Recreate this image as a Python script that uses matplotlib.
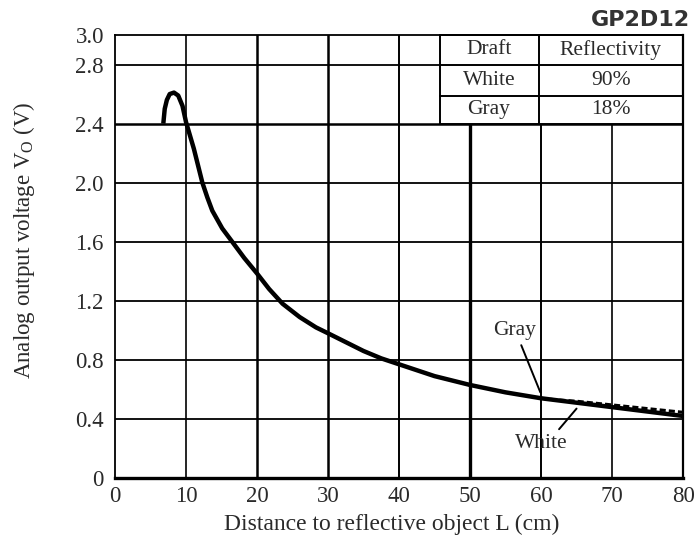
import matplotlib
matplotlib.use('Agg')
import matplotlib.pyplot as plt
from matplotlib.patches import Rectangle

plt.rcParams['font.family'] = ['Liberation Serif', 'DejaVu Serif']
plt.rcParams['mathtext.fontset'] = 'custom'
plt.rcParams['mathtext.rm'] = 'Liberation Serif'

# Curva (hoja de datos GP2D12)
dist_white = [6.8, 7.0, 7.3, 7.7, 8.3, 8.9, 9.5, 10.0, 11.1, 12.3, 13, 13.7, 15.1, 16.5, 18.2, 20,
              21.7, 23.6, 26, 28.3, 30, 32.5, 35, 37.5, 40, 42.5, 45, 47.5, 50, 55, 60, 65, 70, 75, 80]
volt_white = [2.40, 2.50, 2.56, 2.60, 2.61, 2.59, 2.52, 2.41, 2.23, 2.00, 1.90, 1.81, 1.69, 1.60, 1.49, 1.385,
              1.28, 1.18, 1.09, 1.02, 0.98, 0.92, 0.86, 0.81, 0.77, 0.73, 0.69, 0.66, 0.63, 0.58, 0.54, 0.51, 0.48, 0.45, 0.42]

dist_gray = [60, 62, 65, 70, 75, 80]
volt_gray = [0.54, 0.53, 0.52, 0.495, 0.47, 0.445]

xticks = [0, 10, 20, 30, 40, 50, 60, 70, 80]
yticks = [0, 0.4, 0.8, 1.2, 1.6, 2.0, 2.4, 2.8, 3.0]
ytick_labels = ['0', '0.4', '0.8', '1.2', '1.6', '2.0', '2.4', '2.8', '3.0']

tabla = [['Draft', 'Reflectivity'],
         ['White', '90%'],
         ['Gray', '18%']]

color_texto = '#2a2a2a'

fig = plt.figure(figsize=(6.98, 5.40), dpi=100)
ax = fig.add_axes([0.1648, 0.1148, 0.8138, 0.8204])
ax.set_xlim(0, 80)
ax.set_ylim(0, 3.0)

# Rejilla (algunas lineas se ven mas gruesas en el original)
grosor_v = {10: 1.2, 20: 1.8, 30: 1.8, 40: 1.4, 50: 2.4, 60: 1.4, 70: 1.2}
for xv, lw in grosor_v.items():
    ax.axvline(xv, color='black', lw=lw, zorder=1)
grosor_h = {0.4: 1.3, 0.8: 1.3, 1.2: 1.3, 1.6: 1.3, 2.0: 1.3, 2.4: 1.8, 2.8: 1.3}
for yv, lw in grosor_h.items():
    ax.axhline(yv, color='black', lw=lw, zorder=1)

ax.spines['bottom'].set_linewidth(2.4)
ax.spines['left'].set_linewidth(1.3)
ax.spines['right'].set_linewidth(1.6)
ax.spines['top'].set_linewidth(1.3)

ax.set_xticks(xticks)
ax.set_yticks(yticks)
ax.set_yticklabels(ytick_labels)
ax.tick_params(length=0, labelsize=16.5, labelcolor=color_texto)
ax.tick_params(axis='x', pad=6)
ax.tick_params(axis='y', pad=8)

# Tabla de reflectividad
x_izq, x_med, x_der = 45.7, 59.65, 80
filas_y = [3.0, 2.8, 2.59, 2.4]
ax.add_patch(Rectangle((x_izq, 2.4), x_der - x_izq, 0.6, facecolor='white',
                       edgecolor='none', zorder=2))
for yv in filas_y:
    ax.plot([x_izq, x_der], [yv, yv], color='black', lw=1.4, zorder=3, clip_on=False)
for xv in [x_izq, x_med]:
    ax.plot([xv, xv], [2.4, 3.0], color='black', lw=1.4, zorder=3)
for i, fila in enumerate(tabla):
    yc = (filas_y[i] + filas_y[i + 1]) / 2
    ax.text((x_izq + x_med) / 2, yc, fila[0], ha='center', va='center',
            fontsize=15.5, color=color_texto, zorder=4)
    ax.text((x_med + x_der) / 2, yc, fila[1], ha='center', va='center',
            fontsize=15.5, color=color_texto, zorder=4)

# Curvas
ax.plot(dist_white, volt_white, color='black', lw=3.2, solid_capstyle='butt',
        solid_joinstyle='round', zorder=5)
ax.plot(dist_gray, volt_gray, color='black', lw=2.2, dashes=(2, 1), zorder=6)

ax.annotate('Gray', xy=(59.9, 0.58), xytext=(56.3, 1.0), ha='center', va='center',
            fontsize=15.5, color=color_texto,
            arrowprops=dict(arrowstyle='-', lw=1.4, color='black', relpos=(0.6, 0),
                            shrinkA=2, shrinkB=0))
ax.annotate('White', xy=(65.0, 0.47), xytext=(60.1, 0.233), ha='center', va='center',
            fontsize=15.5, color=color_texto,
            arrowprops=dict(arrowstyle='-', lw=1.4, color='black', relpos=(0.75, 1),
                            shrinkA=2, shrinkB=0))

ax.set_xlabel('Distance to reflective object L (cm)', fontsize=17, color=color_texto)
ax.xaxis.set_label_coords(0.487, -0.08)
ax.set_ylabel(r'Analog output voltage $\mathregular{V_O}$ (V)', fontsize=16.5, color=color_texto)
ax.yaxis.set_label_coords(-0.137, 0.537)

fig.text(690 / 698, 1 - 20 / 540, 'GP2D12', ha='right', va='center', fontsize=16,
         fontweight='bold', family='DejaVu Sans', color='#333333')

fig.savefig('out.png', dpi=100)
